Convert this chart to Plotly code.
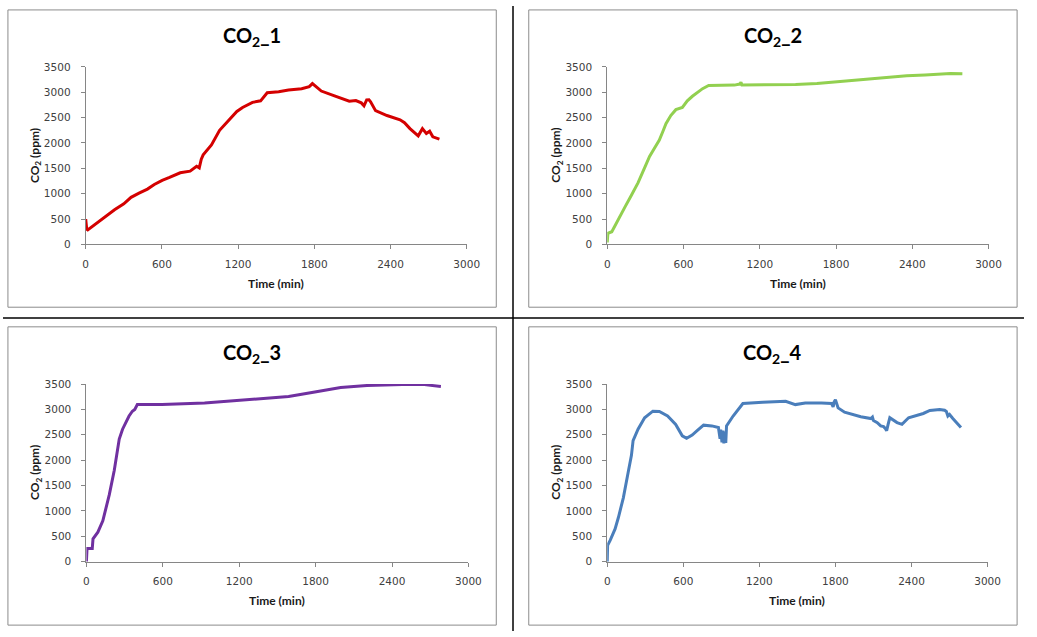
import plotly.graph_objects as go

W, H = 1037, 637

# ---- data ----
t1 = [0, 8, 16, 60, 121, 180, 227, 300, 357, 420, 486, 540, 602, 660, 744, 822, 858, 873, 894, 910,
      925, 990, 1054, 1132, 1190, 1235, 1313, 1377, 1429, 1519, 1597, 1700, 1760, 1785, 1800, 1855, 1959, 2075, 2127, 2170,
      2191, 2212, 2230, 2243, 2282, 2372, 2475, 2510, 2553, 2618, 2651, 2682, 2708, 2733, 2785]
co2_1 = [500, 300, 285, 370, 480, 590, 683, 800, 928, 1010, 1090, 1180, 1263, 1320, 1412, 1444, 1520, 1540, 1508, 1680,
         1766, 1960, 2250, 2475, 2620, 2700, 2800, 2830, 2990, 3010, 3043, 3068, 3110, 3170, 3140, 3023, 2926, 2823, 2836, 2790,
         2733, 2849, 2850, 2810, 2637, 2540, 2456, 2400, 2282, 2140, 2282, 2185, 2230, 2120, 2075]

t2 = [0, 5, 36, 80, 139, 188, 243, 292, 333, 369, 410, 440, 462, 500, 540, 591, 630, 670, 707, 750,
      798, 900, 1000, 1043, 1052, 1060, 1200, 1482, 1650, 1840, 2000, 2098, 2250, 2356, 2500, 2614, 2700, 2794]
co2_2 = [40, 220, 250, 470, 735, 960, 1218, 1500, 1734, 1885, 2056, 2240, 2378, 2540, 2656, 2700, 2830, 2920, 2990, 3070,
         3133, 3135, 3140, 3160, 3195, 3140, 3140, 3152, 3170, 3210, 3240, 3275, 3300, 3325, 3340, 3365, 3370, 3365]

t3 = [0, 5, 15, 40, 46, 52, 70, 90, 129, 150, 180, 219, 258, 284, 310, 335, 361, 380, 400, 593,
      928, 1237, 1495, 1588, 1794, 1997, 2203, 2435, 2550, 2654, 2719, 2784]
co2_3 = [0, 260, 260, 260, 260, 450, 520, 580, 805, 1000, 1320, 1800, 2415, 2610, 2740, 2870, 2965, 3000, 3095, 3095,
         3125, 3180, 3235, 3255, 3345, 3430, 3470, 3495, 3495, 3490, 3470, 3450]

t4 = [0, 3, 23, 62, 88, 127, 166, 191, 204, 243, 295, 360, 411, 476, 540, 592, 626, 650, 670, 709,
      760, 825, 877, 890, 895, 905, 912, 920, 928, 935, 941, 993, 1070, 1226, 1407, 1484, 1562, 1690, 1769, 1782,
      1790, 1800, 1810, 1821, 1872, 2000, 2080, 2092, 2100, 2130, 2157, 2180, 2195, 2204, 2215, 2229, 2286, 2325, 2377, 2493,
      2545, 2622, 2661, 2675, 2687, 2700, 2726, 2790]
co2_4 = [0, 320, 420, 645, 870, 1257, 1770, 2095, 2385, 2610, 2835, 2965, 2960, 2870, 2705, 2480, 2430, 2470, 2495, 2580,
         2690, 2675, 2645, 2420, 2600, 2350, 2580, 2330, 2560, 2340, 2675, 2870, 3115, 3140, 3160, 3095, 3125, 3125, 3115, 3050,
         3150, 3190, 3100, 3030, 2945, 2855, 2820, 2850, 2780, 2740, 2675, 2660, 2620, 2580, 2700, 2835, 2740, 2705, 2835, 2920,
         2980, 3000, 2985, 2960, 2870, 2900, 2820, 2645]

titles = ["CO<sub>2</sub>_1", "CO<sub>2</sub>_2", "CO<sub>2</sub>_3", "CO<sub>2</sub>_4"]
x_ticks = [0, 600, 1200, 1800, 2400, 3000]
y_ticks = [0, 500, 1000, 1500, 2000, 2500, 3000, 3500]

series = [(t1, co2_1, "#D40000"), (t2, co2_2, "#92D050"), (t3, co2_3, "#7030A0"), (t4, co2_4, "#4A7EBB")]

# pixel geometry: (plot left, plot right, plot top, plot bottom), panel box (l, r, t, b)
plots = [(84, 471, 62, 243), (613.7, 1001, 62, 243), (84.7, 472.7, 385.3, 566.3), (613.7, 1000, 385.3, 566.3)]
boxes = [(5, 501, 4, 307), (534, 1030, 4, 307), (5, 501, 327, 631), (534, 1030, 327, 631)]

px = lambda x: x / W
py = lambda y: 1 - y / H

fig = go.Figure()
layout = dict(width=W, height=H, autosize=False, margin=dict(l=0, r=0, t=0, b=0, pad=0),
              paper_bgcolor="white", plot_bgcolor="white", showlegend=False,
              shapes=[], annotations=[])

axis_common = dict(showgrid=False, zeroline=False, showline=True, linecolor="#868686", linewidth=1,
                   ticks="outside", tickcolor="#868686", ticklen=4, tickwidth=1,
                   tickfont=dict(family="DejaVu Sans", size=10.5, color="#404040"), fixedrange=True)

for i, ((t, c, col), (l, r, tp, bt), box, title) in enumerate(zip(series, plots, boxes, titles)):
    n = "" if i == 0 else str(i + 1)
    fig.add_trace(go.Scatter(x=t, y=c, mode="lines", line=dict(color=col, width=3),
                             xaxis="x" + n, yaxis="y" + n, hoverinfo="skip"))
    layout["xaxis" + n] = dict(axis_common, domain=[px(l), px(r)], range=[0, 3000],
                               tickvals=x_ticks, ticktext=[str(v) for v in x_ticks],
                               anchor="y" + n, ticklabelstandoff=6)
    layout["yaxis" + n] = dict(axis_common, domain=[py(bt), py(tp)], range=[0, 3500],
                               tickvals=y_ticks, ticktext=[str(v) for v in y_ticks],
                               anchor="x" + n, ticklabelstandoff=8)
    bl, br, bt2, bb = box
    layout["shapes"].append(dict(type="rect", xref="paper", yref="paper",
                                 x0=px(bl), x1=px(br), y0=py(bb), y1=py(bt2),
                                 line=dict(color="#8C8C8C", width=1), layer="below"))
    layout["annotations"].append(dict(text=title, xref="paper", yref="paper",
                                      x=px((bl + br) / 2), y=py(tp - 31), xanchor="center", yanchor="middle",
                                      showarrow=False,
                                      font=dict(family="Lato", size=20, color="black", weight="bold")))
    layout["annotations"].append(dict(text="Time (min)", xref="paper", yref="paper",
                                      x=px((l + r) / 2), y=py(bt + 40), xanchor="center", yanchor="middle",
                                      showarrow=False,
                                      font=dict(family="Lato", size=12, color="#1a1a1a", weight="bold")))
    layout["annotations"].append(dict(text="CO<sub>2</sub> (ppm)", xref="paper", yref="paper",
                                      x=px(l - 51), y=py((tp + bt) / 2), xanchor="center", yanchor="middle",
                                      textangle=-90, showarrow=False,
                                      font=dict(family="Lato", size=12, color="#1a1a1a", weight="bold")))

# black table-cell separators
layout["shapes"].append(dict(type="line", xref="paper", yref="paper", x0=px(518), x1=px(518), y0=0, y1=1,
                             line=dict(color="black", width=1.5)))
layout["shapes"].append(dict(type="line", xref="paper", yref="paper", x0=0, x1=1, y0=py(318), y1=py(318),
                             line=dict(color="black", width=1.5)))

fig.update_layout(**layout)

# remove the default 8px body margin so the 1037x637 figure fills the window exactly
post = ("document.documentElement.style.margin='0';document.documentElement.style.padding='0';"
        "document.documentElement.style.overflow='hidden';"
        "document.body.style.margin='0';document.body.style.padding='0';document.body.style.overflow='hidden';")

fig.write_html("out.html", config={"responsive": False, "displayModeBar": False}, post_script=post)
